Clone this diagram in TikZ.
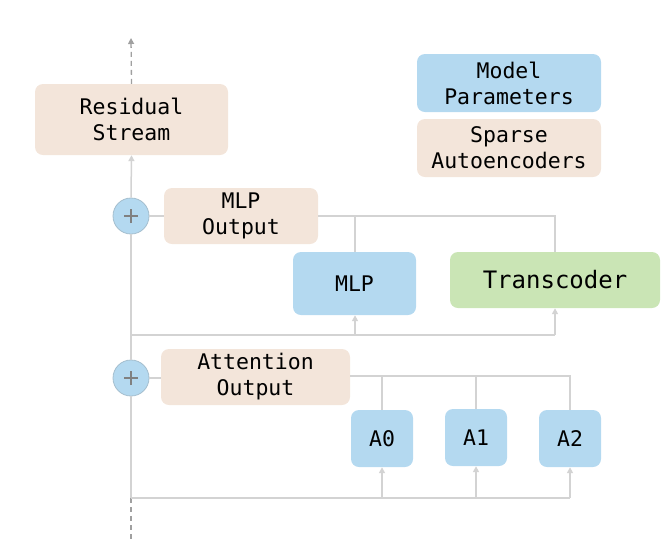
\documentclass[tikz,border=0pt]{standalone}
\usepackage{fontspec}
\setmonofont{DejaVu Sans Mono}
\usetikzlibrary{arrows.meta}
\definecolor{beige}{HTML}{F3E5DA}
\definecolor{mblue}{HTML}{B4D9F0}
\definecolor{mgreen}{HTML}{CAE5B5}
\definecolor{lgrey}{HTML}{D3D3D3}
\definecolor{dgrey}{HTML}{A0A0A0}
\tikzset{
  box/.style={rounded corners=8pt, draw=none, align=center, inner sep=0pt,
    font=\ttfamily\fontsize{21.5}{26}\selectfont},
  sae/.style={box, fill=beige},
  par/.style={box, fill=mblue},
  tcd/.style={box, fill=mgreen, font=\ttfamily\fontsize{24}{28}\selectfont},
  plus/.style={circle, fill=mblue, draw=mblue!70!gray, line width=0.8pt, minimum size=36pt, inner sep=0pt},
  pluscross/.style={draw=gray, line width=1.6pt},
  conn/.style={draw=lgrey, line width=1.5pt},
  arr/.style={conn, -{Triangle[length=6pt,width=6pt]}},
  darr/.style={draw=dgrey, line width=1.3pt, dashed, dash pattern=on 5pt off 4pt},
}
\begin{document}
\begin{tikzpicture}[x=1pt,y=-1pt]
\useasboundingbox (0,0) rectangle (671,542);
% nodes
\node[sae, minimum width=193pt, minimum height=71pt] (res) at (131.5,119.5) {Residual\\Stream};
\node[plus] (mlpplus) at (131,216) {};
\node[sae, minimum width=154pt, minimum height=56pt] (mlpout) at (241,216) {MLP\\Output};
\node[par, minimum width=123pt, minimum height=63pt] (mlp) at (354.5,283.5) {MLP};
\node[tcd, minimum width=210pt, minimum height=56pt] (tc) at (555,280) {Transcoder};
\node[plus] (attplus) at (131,378) {};
\node[sae, minimum width=189pt, minimum height=56pt] (attout) at (255.5,377) {Attention\\Output};
\node[par, minimum width=62pt, minimum height=57pt] (a0) at (382,438.5) {A0};
\node[par, minimum width=62pt, minimum height=57pt] (a1) at (476,437.5) {A1};
\node[par, minimum width=62pt, minimum height=57pt] (a2) at (570,438.5) {A2};
\node[par, minimum width=184pt, minimum height=58pt] (leg1) at (509,83) {Model\\Parameters};
\node[sae, minimum width=184pt, minimum height=58pt] (leg2) at (509,148) {Sparse\\Autoencoders};
% plus signs
\foreach \p in {mlpplus,attplus}{
  \draw[pluscross] ([xshift=-7pt]\p.center) -- ([xshift=7pt]\p.center);
  \draw[pluscross] ([yshift=-7pt]\p.center) -- ([yshift=7pt]\p.center);
}
% coordinates
\coordinate (top) at (131,38);
\coordinate (bot) at (131,540);
\coordinate (mlpj1) at (355,216);
\coordinate (mlpj2) at (555,216);
\coordinate (mlpb0) at (131,335);
\coordinate (mlpb1) at (355,335);
\coordinate (mlpb2) at (555,335);
\coordinate (attj0) at (382,376);
\coordinate (attj1) at (476,376);
\coordinate (attj2) at (570,376);
\coordinate (attb0) at (131,498);
\coordinate (attb1) at (382,498);
\coordinate (attb2) at (476,498);
\coordinate (attb3) at (570,498);
% connectors
\draw[darr, -{Triangle[length=6pt,width=6pt]}] (res.north) -- (top);
\draw[darr] (attb0) -- (bot);
\draw[arr] (mlpplus.north) -- (res.south);
\draw[conn] (attplus.north) -- (mlpplus.south);
\draw[conn] (attb0) -- (attplus.south);
\draw[conn] (mlpplus.east) -- (mlpplus.east -| mlpout.west);
\draw[conn] (attplus.east) -- (attplus.east -| attout.west);
\draw[conn] (mlpout.east) -- (mlpj2) -- (tc.north);
\draw[conn] (mlpj1) -- (mlpj1 |- mlp.north);
\draw[conn] (mlpb0) -- (mlpb2);
\draw[arr] (mlpb1) -- (mlpb1 |- mlp.south);
\draw[arr] (mlpb2) -- (tc.south);
\draw[conn] (attj0 -| attout.east) -- (attj2) -- (a2.north);
\draw[conn] (attj0) -- (a0.north);
\draw[conn] (attj1) -- (a1.north);
\draw[conn] (attb0) -- (attb3);
\draw[arr] (attb1) -- (a0.south);
\draw[arr] (attb2) -- (a1.south);
\draw[arr] (attb3) -- (a2.south);
\end{tikzpicture}
\end{document}
